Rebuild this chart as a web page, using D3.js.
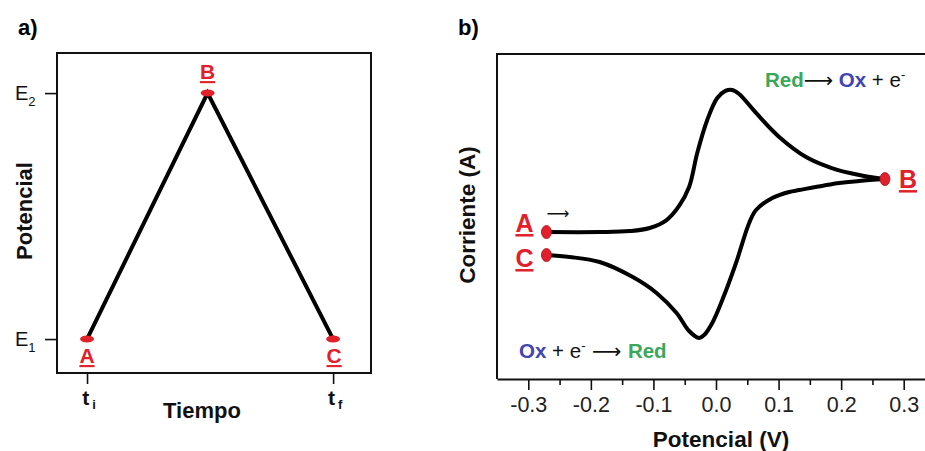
<!DOCTYPE html>
<html>
<head>
<meta charset="utf-8">
<script src="https://cdn.jsdelivr.net/npm/d3@7"></script>
<style>
  html, body { margin: 0; padding: 0; background: #fff; }
  svg { display: block; font-family: Arial, "Liberation Sans", sans-serif; }
</style>
</head>
<body>
<svg id="chart" width="925" height="451"></svg>
<script>
// ---- Panel a: triangular potential waveform ----
const waveTime = [0, 0.49, 1];          // t_i, vertex, t_f
const wavePotential = [0, 1, 0];        // E1, E2, E1
const waveLabels = ["A", "B", "C"];
const potentialTicks = [0, 1];
const potentialTickNames = [["E", "1"], ["E", "2"]];
const timeTicks = [0, 1];
const timeTickNames = [["t", "i"], ["t", "f"]];

// ---- Panel b: cyclic voltammogram (potential in V, current in arbitrary units) ----
const forwardE = [-0.271, -0.186, -0.138, -0.106, -0.079, -0.059, -0.043, -0.030, -0.014, 0.002,
                  0.015, 0.026, 0.037, 0.064, 0.101, 0.144, 0.185, 0.229, 0.270];
const forwardI = [-0.99, -0.99, -0.93, -0.74, -0.25, 0.62, 1.79, 3.89, 5.93, 7.28,
                  7.72, 7.78, 7.53, 6.36, 4.88, 3.64, 2.96, 2.53, 2.28];
const reverseE = [0.270, 0.229, 0.197, 0.133, 0.117, 0.090, 0.064, 0.053, 0.032, 0.010,
                  -0.006, -0.019, -0.027, -0.043, -0.063, -0.095, -0.133, -0.186, -0.234, -0.271];
const reverseI = [2.28, 2.16, 2.04, 1.60, 1.48, 1.11, 0.37, -0.43, -2.90, -5.19,
                  -6.60, -7.35, -7.53, -7.10, -5.99, -4.75, -3.77, -2.84, -2.53, -2.41];
const cvPointsE = [-0.271, 0.270, -0.271];
const cvPointsI = [-0.99, 2.28, -2.41];
const cvPointLabels = ["A", "B", "C"];
const cvMajorTicks = [-0.3, -0.2, -0.1, 0, 0.1, 0.2, 0.3];
const cvMajorTickNames = ["-0.3", "-0.2", "-0.1", "0.0", "0.1", "0.2", "0.3"];
const cvMinorTicks = [-0.25, -0.15, -0.05, 0.05, 0.15, 0.25];

const RED = "#e0202a", GREEN = "#3aa85a", BLUE = "#3f45b2";

const svg = d3.select("#chart");

// =================== Panel a ===================
const xa = d3.scaleLinear().domain([-0.122, 1.154]).range([57, 371]);
const ya = d3.scaleLinear().domain([-0.138, 1.163]).range([373, 53]);
const ga = svg.append("g");

ga.append("text").attr("x", 18).attr("y", 35)
  .attr("font-size", 22).attr("font-weight", "bold").text("a)");

// frame
ga.append("rect").attr("x", xa.range()[0]).attr("y", ya.range()[1])
  .attr("width", xa.range()[1] - xa.range()[0]).attr("height", ya.range()[0] - ya.range()[1])
  .attr("fill", "none").attr("stroke", "#111").attr("stroke-width", 2);

// left axis ticks with subscripted names
const axA = ga.append("g").attr("transform", `translate(${xa.range()[0]},0)`)
  .call(d3.axisLeft(ya).tickValues(potentialTicks).tickSize(12).tickSizeOuter(0).tickFormat(""));
axA.select(".domain").remove();
axA.selectAll(".tick line").attr("stroke", "#111").attr("stroke-width", 1.6);
potentialTicks.forEach((v, i) => {
  const t = ga.append("text").attr("x", 15).attr("y", ya(v) + 7)
    .attr("font-size", 20).attr("fill", "#111");
  t.append("tspan").text(potentialTickNames[i][0]);
  t.append("tspan").attr("dy", 6).attr("font-size", 13).text(potentialTickNames[i][1]);
});

// bottom axis ticks
const axB = ga.append("g").attr("transform", `translate(0,${ya.range()[0]})`)
  .call(d3.axisBottom(xa).tickValues(timeTicks).tickSize(11).tickSizeOuter(0).tickFormat(""));
axB.select(".domain").remove();
axB.selectAll(".tick line").attr("stroke", "#111").attr("stroke-width", 1.6);
timeTicks.forEach((v, i) => {
  const t = ga.append("text").attr("x", xa(v) + 2).attr("y", 405)
    .attr("text-anchor", "middle").attr("font-size", 21).attr("font-weight", "bold").attr("fill", "#111");
  t.append("tspan").text(timeTickNames[i][0]);
  t.append("tspan").attr("dx", 3).attr("dy", 4).attr("font-size", 13).text(timeTickNames[i][1]);
});

ga.append("text").attr("x", 202).attr("y", 418).attr("text-anchor", "middle")
  .attr("font-size", 22).attr("font-weight", "bold").attr("fill", "#111").text("Tiempo");
ga.append("text").attr("transform", "translate(32,211) rotate(-90)").attr("text-anchor", "middle")
  .attr("font-size", 22).attr("font-weight", "bold").attr("fill", "#111").text("Potencial");

// waveform
const waveData = waveTime.map((t, i) => ({ t, e: wavePotential[i], label: waveLabels[i] }));
ga.append("path").datum(waveData)
  .attr("d", d3.line().x(d => xa(d.t)).y(d => ya(d.e)))
  .attr("fill", "none").attr("stroke", "#000").attr("stroke-width", 4).attr("stroke-linejoin", "miter");
ga.selectAll("ellipse.pt").data(waveData).join("ellipse")
  .attr("cx", d => xa(d.t)).attr("cy", d => ya(d.e))
  .attr("rx", 7).attr("ry", 3.5).attr("fill", RED);
ga.selectAll("text.lbl").data(waveData).join("text")
  .attr("x", d => xa(d.t) + (d.label === "C" ? 1 : 0))
  .attr("y", d => d.e === 1 ? ya(d.e) - 14 : ya(d.e) + 24)
  .attr("text-anchor", "middle").attr("font-size", 21).attr("font-weight", "bold")
  .attr("fill", RED).attr("text-decoration", "underline").text(d => d.label);

// =================== Panel b ===================
const xb = d3.scaleLinear().domain([-0.35, 0.35]).range([497, 935]);
const yb = d3.scaleLinear().domain([-10, 10]).range([378, 54]);
const gb = svg.append("g");

gb.append("text").attr("x", 458).attr("y", 35)
  .attr("font-size", 22).attr("font-weight", "bold").text("b)");

// frame: left and top borders
gb.append("path")
  .attr("d", `M${xb.range()[0]},${yb(-10) + 1}V${yb(10)}H925`)
  .attr("fill", "none").attr("stroke", "#111").attr("stroke-width", 2);

// bottom axis with major and minor ticks
const bx = gb.append("g").attr("transform", `translate(0,${yb(-10) + 1})`)
  .call(d3.axisBottom(xb).tickValues(cvMajorTicks).tickSize(11).tickSizeOuter(0).tickPadding(7)
    .tickFormat((d, i) => cvMajorTickNames[i]));
bx.select(".domain").attr("stroke", "#111").attr("stroke-width", 2);
bx.selectAll(".tick line").attr("stroke", "#111").attr("stroke-width", 1.6);
bx.selectAll(".tick text").attr("font-size", 21.5).attr("fill", "#222")
  .attr("font-family", "Arial, 'Liberation Sans', sans-serif");
const bxm = gb.append("g").attr("transform", `translate(0,${yb(-10) + 1})`)
  .call(d3.axisBottom(xb).tickValues(cvMinorTicks).tickSize(6).tickFormat(""));
bxm.select(".domain").remove();
bxm.selectAll(".tick line").attr("stroke", "#111").attr("stroke-width", 1.6);

gb.append("text").attr("x", 721).attr("y", 447).attr("text-anchor", "middle")
  .attr("font-size", 22.5).attr("font-weight", "bold").attr("fill", "#111").text("Potencial (V)");
gb.append("text").attr("transform", "translate(475,215) rotate(-90)").attr("text-anchor", "middle")
  .attr("font-size", 22.5).attr("font-weight", "bold").attr("fill", "#111").text("Corriente (A)");

// voltammogram branches
const cvLine = d3.line().x(d => xb(d[0])).y(d => yb(d[1])).curve(d3.curveCatmullRom.alpha(0.5));
const forward = forwardE.map((e, i) => [e, forwardI[i]]);
const reverse = reverseE.map((e, i) => [e, reverseI[i]]);
[forward, reverse].forEach(branch => {
  gb.append("path").datum(branch).attr("d", cvLine)
    .attr("fill", "none").attr("stroke", "#000").attr("stroke-width", 4)
    .attr("stroke-linecap", "round").attr("stroke-linejoin", "round");
});

const cvPts = cvPointsE.map((e, i) => ({ e, i: cvPointsI[i], label: cvPointLabels[i] }));
gb.selectAll("ellipse.pt").data(cvPts).join("ellipse")
  .attr("cx", d => xb(d.e)).attr("cy", d => yb(d.i))
  .attr("rx", 5).attr("ry", 6.5).attr("fill", RED).attr("stroke", "#b0101a").attr("stroke-width", 0.8);
gb.selectAll("text.lbl").data(cvPts).join("text")
  .attr("x", d => d.label === "B" ? xb(d.e) + 23 : xb(d.e) - 22)
  .attr("y", d => yb(d.i) + (d.label === "A" ? 0 : d.label === "C" ? 12 : 9))
  .attr("text-anchor", "middle").attr("font-size", 25).attr("font-weight", "bold")
  .attr("fill", RED).attr("text-decoration", "underline").text(d => d.label);

// scan direction arrow
gb.append("text").attr("x", xb(cvPointsE[0])).attr("y", yb(cvPointsI[0]) - 13)
  .attr("font-size", 16).attr("fill", "#111").attr("font-family", "DejaVu Sans").text("⟶");

// reaction annotations
function reaction(x, y, parts) {
  const t = gb.append("text").attr("x", x).attr("y", y).attr("font-size", 20.5).attr("fill", "#111");
  parts.forEach(p => {
    const s = t.append("tspan").text(p.text);
    if (p.color) s.attr("fill", p.color);
    if (p.bold) s.attr("font-weight", "bold");
    if (p.sup) s.attr("dy", -8).attr("font-size", 13);
    if (p.down) s.attr("dy", 8);
    if (p.font) s.attr("font-family", p.font);
  });
}
reaction(765, 87, [
  { text: "Red", color: GREEN, bold: true },
  { text: "⟶", font: "DejaVu Sans" },
  { text: " Ox", color: BLUE, bold: true },
  { text: " + e" },
  { text: "-", sup: true }
]);
reaction(519, 358, [
  { text: "Ox", color: BLUE, bold: true },
  { text: " + e" },
  { text: "-", sup: true },
  { text: " ⟶ ", font: "DejaVu Sans", down: true },
  { text: "Red", color: GREEN, bold: true }
]);
</script>
</body>
</html>
